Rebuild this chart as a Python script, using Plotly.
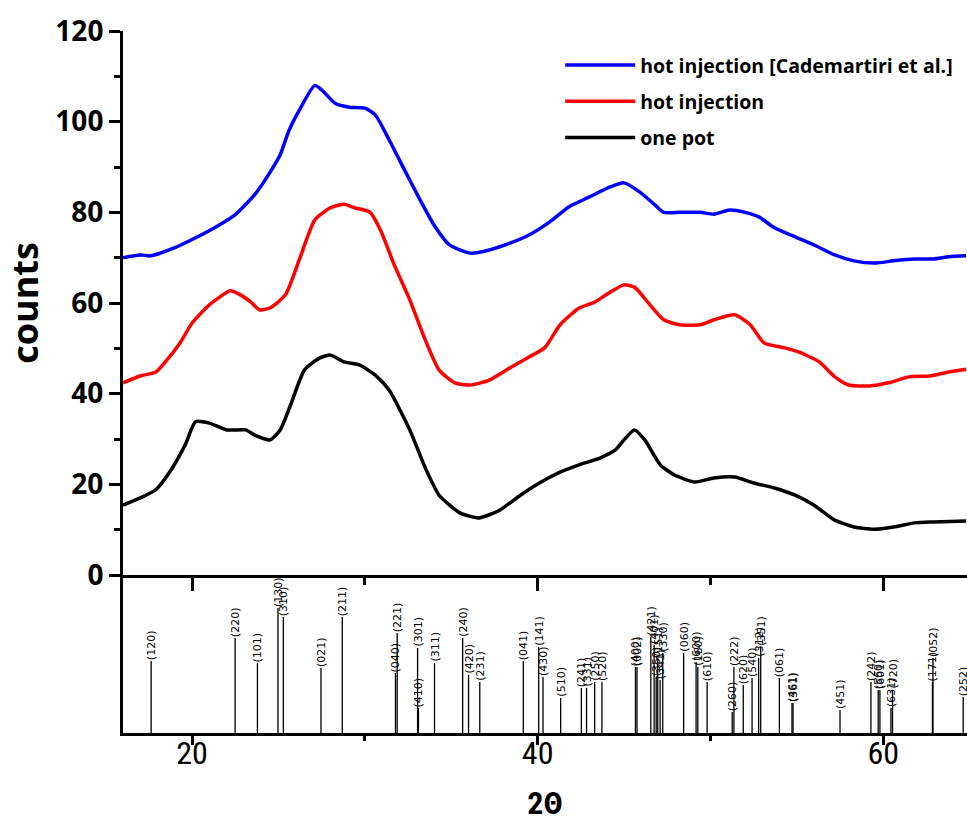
import plotly.graph_objects as go

# ---- measured XRD patterns (2theta in degrees, counts) ----
x_blue = [16.0, 17.0, 17.6, 19.0, 20.0, 21.3, 22.5, 23.6, 24.2, 25.1, 25.6, 26.2, 27.1, 27.5, 28.3, 29.1,
          30.0, 30.6, 31.4, 32.3, 33.2, 34.0, 34.9, 36.1, 37.2, 38.4, 39.5, 40.7, 41.8, 43.0, 44.2,
          45.0, 45.9, 46.8, 47.3, 48.2, 49.4, 50.2, 51.1, 52.0, 52.8, 53.7, 54.9, 56.0, 57.2, 58.3,
          59.5, 60.6, 61.8, 62.9, 63.8, 64.8]
y_blue = [70.0, 70.6, 70.4, 72.2, 74.0, 76.6, 79.5, 83.8, 87.0, 92.7, 98.0, 102.5, 108.0, 107.0, 104.0, 103.2,
          103.0, 101.5, 96.0, 89.3, 82.7, 77.2, 72.8, 71.0, 71.7, 73.2, 75.0, 77.9, 81.2, 83.4, 85.6,
          86.5, 84.5, 81.6, 80.0, 80.0, 80.0, 79.6, 80.5, 80.0, 79.0, 76.6, 74.6, 72.8, 70.6, 69.3,
          68.8, 69.3, 69.7, 69.7, 70.2, 70.4]

x_red = [16.0, 17.0, 17.9, 18.4, 19.3, 20.0, 21.0, 21.6, 22.2, 22.8, 23.4, 23.9, 24.5, 25.4, 26.2, 27.1,
         28.0, 28.8, 29.4, 30.3, 30.9, 31.7, 32.6, 33.5, 34.3, 35.2, 36.1, 37.2, 38.4, 39.5, 40.4,
         41.3, 42.4, 43.3, 44.2, 45.0, 45.6, 46.5, 47.3, 48.2, 49.4, 50.2, 51.4, 52.3, 53.1, 54.3,
         55.1, 56.3, 57.2, 58.0, 59.2, 60.3, 61.5, 62.7, 63.8, 64.8]
y_red = [42.4, 43.9, 44.8, 46.8, 51.2, 55.6, 59.6, 61.3, 62.7, 61.8, 60.2, 58.5, 58.9, 61.8, 69.5, 78.3,
         81.0, 81.8, 81.0, 80.0, 76.1, 68.4, 60.7, 51.8, 45.2, 42.4, 41.9, 43.0, 45.7, 48.1, 50.1,
         55.2, 58.9, 60.2, 62.4, 64.0, 63.5, 59.6, 56.3, 55.2, 55.2, 56.3, 57.4, 55.2, 51.2, 50.1,
         49.2, 47.0, 43.7, 41.9, 41.7, 42.4, 43.7, 43.9, 44.8, 45.4]

x_black = [16.0, 17.0, 17.9, 18.7, 19.6, 20.2, 21.0, 22.0, 23.1, 23.6, 24.5, 25.1, 25.7, 26.5, 27.4,
           28.0, 28.8, 29.7, 30.6, 31.4, 32.6, 33.5, 34.3, 35.5, 36.6, 37.8, 39.0, 40.1, 41.3, 42.4,
           43.6, 44.5, 45.0, 45.6, 46.2, 47.1, 47.9, 49.1, 50.2, 51.4, 52.5, 53.7, 54.9, 56.0, 57.2,
           58.3, 59.5, 60.6, 61.8, 62.9, 64.8]
y_black = [15.4, 17.0, 18.8, 22.7, 28.7, 33.8, 33.5, 32.0, 32.0, 30.9, 29.8, 32.0, 37.5, 45.2, 47.9,
           48.5, 47.0, 46.3, 44.1, 40.8, 32.0, 23.6, 17.6, 13.7, 12.6, 14.3, 17.6, 20.3, 22.7, 24.3,
           25.8, 27.6, 29.8, 32.0, 29.8, 24.3, 22.1, 20.5, 21.4, 21.6, 20.3, 19.2, 17.6, 15.4, 12.1,
           10.6, 10.1, 10.6, 11.5, 11.7, 11.9]

series_names = ["hot injection [Cademartiri et al.]", "hot injection", "one pot"]

# ---- reference stick pattern (2theta, relative intensity, hkl) ----
ref_pos = [17.63, 22.49, 23.78, 24.97, 25.28, 27.46, 28.69, 31.77, 31.87, 33.05, 33.10, 34.03, 35.66,
           36.00, 36.65, 39.17, 40.06, 40.31, 41.33, 42.53, 42.83, 43.30, 43.72, 45.66, 45.75, 46.55,
           46.74, 46.86, 46.95, 47.09, 47.24, 48.45, 49.17, 49.27, 49.81, 51.26, 51.36, 51.90, 52.41,
           52.79, 52.91, 53.99, 54.72, 54.78, 57.50, 59.29, 59.71, 59.81, 60.45, 60.54, 62.85, 62.88,
           64.63]
ref_int = [72, 95, 70, 125, 116, 65, 116, 60, 100, 85, 25, 70, 95,
           58, 51, 72, 86, 56, 35, 45, 45, 51, 51, 66, 66, 96,
           88, 56, 75, 53, 80, 80, 71, 66, 51, 21, 66, 48, 55,
           75, 86, 55, 30, 30, 23, 51, 43, 43, 25, 43, 51, 75,
           36]
ref_hkl = ["(120)", "(220)", "(101)", "(130)", "(310)", "(021)", "(211)", "(040)", "(221)", "(301)",
           "(410)", "(311)", "(240)", "(420)", "(231)", "(041)", "(141)", "(430)", "(510)", "(241)",
           "(331)", "(250)", "(520)", "(400)", "(002)", "(421)", "(401)", "(350)", "(151)", "(341)",
           "(330)", "(060)", "(600)", "(160)", "(610)", "(260)", "(222)", "(620)", "(540)", "(312)",
           "(351)", "(061)", "(461)", "(361)", "(451)", "(242)", "(560)", "(601)", "(631)", "(720)",
           "(171)", "(052)", "(252)"]

xmin, xmax = 16.0, 64.85
SANS = "'Open Sans', Lato, sans-serif"
NARROW = "'Liberation Sans Narrow', 'Roboto Condensed', 'Liberation Sans', sans-serif"

fig = go.Figure()
for name, xs, ys, col in [(series_names[0], x_blue, y_blue, "#0000ff"),
                          (series_names[1], x_red, y_red, "#ff0000"),
                          (series_names[2], x_black, y_black, "#000000")]:
    fig.add_trace(go.Scatter(x=xs, y=ys, mode="lines", name=name, legendgroup=name,
                             line=dict(color=col, width=3.5, shape="spline", smoothing=0.6),
                             xaxis="x", yaxis="y"))

# sticks
sx, sy = [], []
for p, h in zip(ref_pos, ref_int):
    sx += [p, p, None]
    sy += [0, h, None]
fig.add_trace(go.Scatter(x=sx, y=sy, mode="lines", line=dict(color="black", width=1.3),
                         showlegend=False, xaxis="x2", yaxis="y2", hoverinfo="skip"))

for p, h, t in zip(ref_pos, ref_int, ref_hkl):
    fig.add_annotation(x=p, y=h, xref="x2", yref="y2", text=t, textangle=-90, showarrow=False,
                       xanchor="center", yanchor="bottom", borderpad=0,
                       font=dict(family="DejaVu Sans", size=11, color="black"))

split = 158 / 702.0
axis_common = dict(showgrid=False, zeroline=False, linecolor="black", linewidth=3,
                   tickcolor="black", tickwidth=3, automargin=False)

fig.update_layout(
    width=967, height=823,
    margin=dict(l=123, r=0, t=31, b=90, autoexpand=False),
    plot_bgcolor="white", paper_bgcolor="white",
    showlegend=True,
    legend=dict(x=0.518, y=0.979, xanchor="left", yanchor="top", bgcolor="rgba(0,0,0,0)",
                traceorder="grouped", tracegroupgap=8, itemwidth=70,
                font=dict(family=SANS, size=19.5, color="black", weight="bold")),
    xaxis=dict(domain=[0, 1], range=[xmin, xmax], anchor="y", showline=True, mirror=False,
               ticks="outside", ticklen=13, tickvals=[20, 40, 60], showticklabels=False,
               minor=dict(ticks="outside", ticklen=7, tickwidth=3, tickcolor="black", tickvals=[30, 50]),
               **axis_common),
    xaxis3=dict(overlaying="x", anchor="y", side="top", range=[xmin, xmax], showline=True,
                ticks="inside", ticklen=8, tickvals=[20, 40, 60], showticklabels=False,
                minor=dict(ticks="inside", ticklen=5, tickwidth=3, tickcolor="black", tickvals=[30, 50]),
                **axis_common),
    yaxis=dict(domain=[split, 1], range=[0, 120], anchor="x", showline=True, mirror=False,
               ticks="outside", ticklen=11, dtick=20, tick0=0,
               minor=dict(ticks="outside", ticklen=6, tickwidth=3, tickcolor="black", dtick=10),
               tickfont=dict(family=SANS, size=28, color="black", weight="bold"),
               title=dict(text="counts", standoff=14,
                          font=dict(family=SANS, size=36, color="black", weight="bold")),
               **axis_common),
    yaxis3=dict(overlaying="y", anchor="x", side="right", range=[0, 120], showline=False,
                ticks="inside", ticklen=6, dtick=20, tick0=0, showticklabels=False,
                minor=dict(ticks="inside", ticklen=3, tickwidth=2, tickcolor="#bbbbbb", dtick=10),
                **axis_common),
    xaxis2=dict(domain=[0, 1], range=[xmin, xmax], anchor="y2", showline=True,
                ticks="outside", ticklen=9, tickvals=[20, 40, 60], ticktext=["20", "40", "60"],
                ticklabelstandoff=-19,
                minor=dict(ticks="outside", ticklen=5, tickwidth=3, tickcolor="black", tickvals=[30, 50]),
                tickfont=dict(family=NARROW, size=32, color="black"),
                title=dict(text="2Θ", standoff=21,
                           font=dict(family=NARROW, size=32, color="black", weight="bold")),
                **axis_common),
    yaxis2=dict(domain=[0, split], range=[0, 158], anchor="x2", showline=True, ticks="",
                showticklabels=False, **axis_common),
)

fig.write_html("out.html", config={"displayModeBar": False},
               post_script="document.body.style.margin='0';document.body.style.overflow='hidden';")
